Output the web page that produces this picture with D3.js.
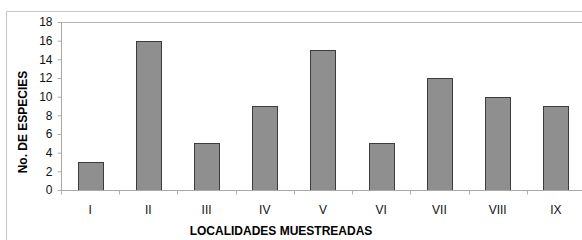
<!DOCTYPE html>
<html>
<head>
<meta charset="utf-8">
<script src="https://cdn.jsdelivr.net/npm/d3@7"></script>
<style>
  body { margin: 0; background: #fff; }
  svg { display: block; font-family: Arial, "Liberation Sans", sans-serif; }
</style>
</head>
<body>
<script>
// localities and number of species
var localidades = ['I', 'II', 'III', 'IV', 'V', 'VI', 'VII', 'VIII', 'IX'];
var especies = [3, 16, 5, 9, 15, 5, 12, 10, 9];
var yTicks = [0, 2, 4, 6, 8, 10, 12, 14, 16, 18];

var W = 582, H = 240;
var margin = {left: 61, top: 22, right: -3, bottom: 50};

var x = d3.scaleBand()
    .domain(localidades)
    .range([margin.left, W - margin.right])
    .paddingInner(0.57)
    .paddingOuter(0.285);

var y = d3.scaleLinear()
    .domain([0, 18])
    .range([H - margin.bottom, margin.top]);

const svg = d3.select('body')
  .append('svg')
  .attr('width', W)
  .attr('height', H);

// outer chart frame (only top and left are visible)
svg.append('path')
  .attr('d', 'M6.5,' + H + 'V11.5H' + W)
  .style('fill', 'none')
  .style('stroke', '#c4c4c4');

// plot area top line
svg.append('line')
  .attr('x1', margin.left).attr('x2', W)
  .attr('y1', y(18) + 0.5).attr('y2', y(18) + 0.5)
  .style('stroke', '#b4b4b4');

// bars
svg.append('g')
  .selectAll('rect')
  .data(especies)
  .enter().append('rect')
    .attr('x', (d, i) => Math.round(x(localidades[i])) + 0.5)
    .attr('y', (d) => Math.round(y(d)) + 0.5)
    .attr('width', Math.round(x.bandwidth()))
    .attr('height', (d) => Math.round(y(0)) - Math.round(y(d)))
    .style('fill', '#8f8f8f')
    .style('stroke', '#3c3c3c')
    .style('stroke-width', 1);

// y axis
var yAxis = d3.axisLeft(y).tickValues(yTicks).tickSize(4).tickPadding(5);
const gy = svg.append('g')
  .attr('transform', 'translate(' + (margin.left + 0.5) + ',0)')
  .call(yAxis);
gy.select('.domain').attr('d', 'M0,' + y(18) + 'V' + y(0)).style('stroke', '#a8a8a8');
gy.selectAll('.tick line').style('stroke', '#b0b0b0');
gy.selectAll('.tick text').style('font-size', '12px').style('fill', '#111');

// x axis: ticks sit between categories
const gx = svg.append('g')
  .attr('transform', 'translate(0,' + (Math.round(y(0)) + 0.5) + ')');
gx.append('line')
  .attr('x1', margin.left).attr('x2', W)
  .style('stroke', '#a8a8a8');
var step = x.step();
gx.selectAll('.sep')
  .data(localidades)
  .enter().append('line')
    .attr('class', 'sep')
    .attr('x1', (d) => Math.round(x(d) - step * 0.285) + 0.5)
    .attr('x2', (d) => Math.round(x(d) - step * 0.285) + 0.5)
    .attr('y1', 0).attr('y2', 4)
    .style('stroke', '#b0b0b0');
gx.selectAll('.lab')
  .data(localidades)
  .enter().append('text')
    .attr('class', 'lab')
    .attr('x', (d) => x(d) + x.bandwidth() / 2)
    .attr('y', 23)
    .attr('text-anchor', 'middle')
    .style('font-size', '12px')
    .style('fill', '#111')
    .text((d) => d);

// axis titles
svg.append('text')
  .attr('x', 281)
  .attr('y', 235)
  .attr('text-anchor', 'middle')
  .style('font-size', '12px')
  .style('font-weight', 'bold')
  .text('LOCALIDADES MUESTREADAS');

svg.append('text')
  .attr('transform', 'translate(27,122) rotate(-90)')
  .attr('text-anchor', 'middle')
  .style('font-size', '12px')
  .style('font-weight', 'bold')
  .text('No. DE ESPECIES');
</script>
</body>
</html>
